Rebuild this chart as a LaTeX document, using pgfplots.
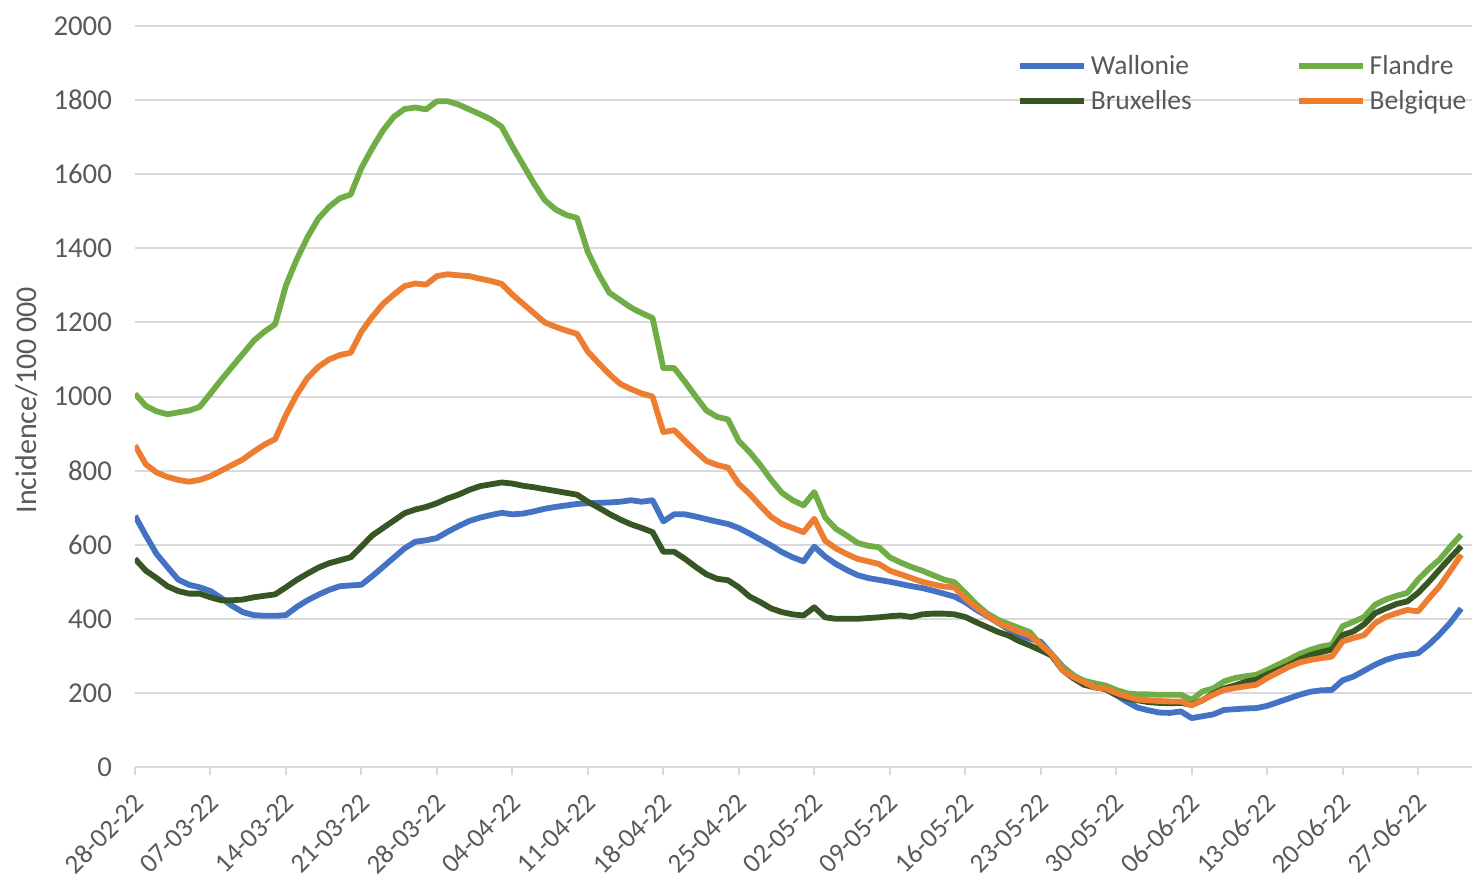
\documentclass[border=0pt]{standalone}
\usepackage{fontspec}
\setmainfont{Carlito}
\usepackage{pgfplots}
\pgfplotsset{compat=1.18}
\definecolor{cW}{HTML}{4472C4}
\definecolor{cF}{HTML}{70AD47}
\definecolor{cB}{HTML}{375623}
\definecolor{cBe}{HTML}{ED7D31}
\definecolor{txt}{HTML}{595959}
\definecolor{grd}{HTML}{D9D9D9}
\begin{document}
\begin{tikzpicture}
\begin{axis}[
  scale only axis, width=668.5pt, height=370.5pt,
  xmin=0, xmax=124, ymin=0, ymax=2000,
  separate axis lines,
  axis x line*=bottom, axis y line*=left,
  x axis line style={draw=grd, line width=1pt},
  y axis line style={draw=none},
  xtick={0,7,...,119},
  xticklabels={28-02-22,07-03-22,14-03-22,21-03-22,28-03-22,04-04-22,11-04-22,18-04-22,25-04-22,02-05-22,09-05-22,16-05-22,23-05-22,30-05-22,06-06-22,13-06-22,20-06-22,27-06-22},
  xtick style={draw=grd, line width=1pt},
  tick align=outside, major tick length=4pt,
  ytick={0,200,...,2000}, ytick style={draw=none},
  ymajorgrids, grid style={grd, line width=1pt},
  ticklabel style={font=\fontsize{14.4}{17}\selectfont, text=txt},
  /pgf/number format/assume math mode=true,
  /pgf/number format/set thousands separator={},
  yticklabel style={xshift=-4pt},
  xticklabel style={rotate=45, anchor=north east, xshift=-3.6pt, yshift=-1.5pt, font=\fontsize{13.5}{16}\selectfont},
  ylabel={Incidence/100 000},
  ylabel style={at={(axis description cs:-0.0808,0.495)}, anchor=center, font=\fontsize{15}{18}\selectfont, text=txt},
  legend columns=2,
  legend cell align=left,
  legend style={at={(axis description cs:0.655,0.972)}, anchor=north west, draw=none, fill=none,
    font=\fontsize{13.75}{16}\selectfont, text=txt,
    /tikz/every even column/.append style={column sep=50pt}, row sep=2.5pt},
  legend image code/.code={\draw[#1, line width=2.9pt] (0pt,0pt) -- (32pt,0pt);},
  every axis plot/.append style={line width=2.9pt, line join=round, no markers},
]
\coordinate (O) at (rel axis cs:0,0);
\addplot[cW] coordinates {
(0,678)(1,625)(2,575)(3,540)(4,506)(5,492)(6,485)(7,475)(8,456)(9,435)(10,418)(11,410)(12,408)(13,408)(14,410)(15,432)(16,450)(17,465)(18,478)(19,488)(20,490)(21,492)(22,515)(23,540)(24,565)(25,590)(26,608)(27,612)(28,618)(29,635)(30,650)(31,664)(32,673)(33,680)(34,686)(35,682)(36,684)(37,690)(38,697)(39,702)(40,706)(41,710)(42,712)(43,713)(44,714)(45,716)(46,720)(47,716)(48,720)(49,663)(50,682)(51,682)(52,676)(53,669)(54,662)(55,656)(56,645)(57,630)(58,614)(59,598)(60,580)(61,566)(62,555)(63,595)(64,568)(65,548)(66,532)(67,518)(68,510)(69,505)(70,500)(71,494)(72,488)(73,483)(74,476)(75,468)(76,460)(77,445)(78,425)(79,408)(80,390)(81,372)(82,356)(83,346)(84,338)(85,305)(86,272)(87,248)(88,224)(89,216)(90,210)(91,194)(92,176)(93,160)(94,153)(95,147)(96,146)(97,150)(98,132)(99,137)(100,142)(101,154)(102,156)(103,158)(104,159)(105,165)(106,175)(107,185)(108,195)(109,203)(110,207)(111,208)(112,234)(113,244)(114,260)(115,276)(116,289)(117,298)(118,303)(119,307)(120,330)(121,358)(122,390)(123,428)
};
\addlegendentry{Wallonie}
\addplot[cF] coordinates {
(0,1007)(1,975)(2,960)(3,952)(4,957)(5,962)(6,972)(7,1008)(8,1045)(9,1080)(10,1115)(11,1150)(12,1175)(13,1195)(14,1300)(15,1370)(16,1430)(17,1480)(18,1512)(19,1535)(20,1545)(21,1617)(22,1670)(23,1718)(24,1755)(25,1776)(26,1780)(27,1775)(28,1797)(29,1797)(30,1788)(31,1775)(32,1762)(33,1748)(34,1728)(35,1675)(36,1625)(37,1575)(38,1530)(39,1505)(40,1490)(41,1482)(42,1390)(43,1330)(44,1280)(45,1260)(46,1240)(47,1225)(48,1212)(49,1077)(50,1077)(51,1040)(52,1000)(53,962)(54,945)(55,938)(56,880)(57,850)(58,815)(59,775)(60,740)(61,720)(62,706)(63,742)(64,674)(65,643)(66,625)(67,605)(68,597)(69,593)(70,566)(71,552)(72,540)(73,530)(74,518)(75,506)(76,499)(77,470)(78,440)(79,415)(80,398)(81,386)(82,375)(83,364)(84,330)(85,305)(86,270)(87,248)(88,233)(89,226)(90,220)(91,208)(92,199)(93,196)(94,196)(95,195)(96,195)(97,195)(98,181)(99,204)(100,212)(101,231)(102,240)(103,245)(104,249)(105,262)(106,276)(107,290)(108,305)(109,316)(110,325)(111,330)(112,380)(113,392)(114,405)(115,438)(116,452)(117,462)(118,470)(119,506)(120,535)(121,560)(122,595)(123,627)
};
\addlegendentry{Flandre}
\addplot[cB] coordinates {
(0,562)(1,530)(2,510)(3,488)(4,475)(5,468)(6,468)(7,458)(8,450)(9,450)(10,452)(11,458)(12,462)(13,466)(14,485)(15,505)(16,522)(17,538)(18,550)(19,558)(20,566)(21,595)(22,625)(23,645)(24,665)(25,685)(26,695)(27,702)(28,712)(29,725)(30,735)(31,748)(32,758)(33,763)(34,768)(35,765)(36,759)(37,755)(38,750)(39,745)(40,740)(41,735)(42,716)(43,700)(44,683)(45,668)(46,655)(47,645)(48,634)(49,581)(50,581)(51,562)(52,540)(53,520)(54,508)(55,504)(56,485)(57,460)(58,445)(59,428)(60,418)(61,412)(62,409)(63,431)(64,404)(65,400)(66,400)(67,400)(68,402)(69,404)(70,407)(71,409)(72,405)(73,412)(74,414)(75,414)(76,412)(77,405)(78,391)(79,378)(80,365)(81,355)(82,340)(83,328)(84,315)(85,301)(86,262)(87,240)(88,222)(89,215)(90,211)(91,195)(92,185)(93,180)(94,175)(95,173)(96,172)(97,173)(98,168)(99,180)(100,198)(101,212)(102,220)(103,230)(104,236)(105,250)(106,262)(107,275)(108,290)(109,302)(110,310)(111,317)(112,356)(113,366)(114,385)(115,415)(116,428)(117,440)(118,447)(119,470)(120,500)(121,533)(122,565)(123,596)
};
\addlegendentry{Bruxelles}
\addplot[cBe] coordinates {
(0,868)(1,817)(2,795)(3,783)(4,775)(5,770)(6,775)(7,785)(8,800)(9,815)(10,830)(11,851)(12,870)(13,885)(14,950)(15,1005)(16,1050)(17,1080)(18,1100)(19,1112)(20,1118)(21,1175)(22,1215)(23,1250)(24,1275)(25,1298)(26,1305)(27,1302)(28,1325)(29,1330)(30,1327)(31,1325)(32,1318)(33,1312)(34,1304)(35,1275)(36,1250)(37,1225)(38,1200)(39,1188)(40,1178)(41,1169)(42,1121)(43,1090)(44,1060)(45,1034)(46,1020)(47,1008)(48,1000)(49,904)(50,909)(51,880)(52,852)(53,826)(54,815)(55,808)(56,764)(57,737)(58,705)(59,675)(60,656)(61,645)(62,634)(63,670)(64,611)(65,590)(66,575)(67,562)(68,555)(69,548)(70,530)(71,520)(72,510)(73,500)(74,493)(75,487)(76,485)(77,455)(78,431)(79,410)(80,390)(81,377)(82,365)(83,355)(84,330)(85,305)(86,262)(87,243)(88,229)(89,215)(90,212)(91,200)(92,190)(93,182)(94,180)(95,178)(96,177)(97,177)(98,166)(99,180)(100,195)(101,208)(102,213)(103,218)(104,222)(105,240)(106,255)(107,270)(108,282)(109,289)(110,294)(111,298)(112,339)(113,348)(114,356)(115,388)(116,405)(117,415)(118,424)(119,420)(120,455)(121,488)(122,530)(123,573)
};
\addlegendentry{Belgique}
\end{axis}
\pgfresetboundingbox
\path[use as bounding box] (O) ++(-67.5pt,-56.5pt) rectangle ++(736.5pt,440pt);
\end{tikzpicture}
\end{document}
